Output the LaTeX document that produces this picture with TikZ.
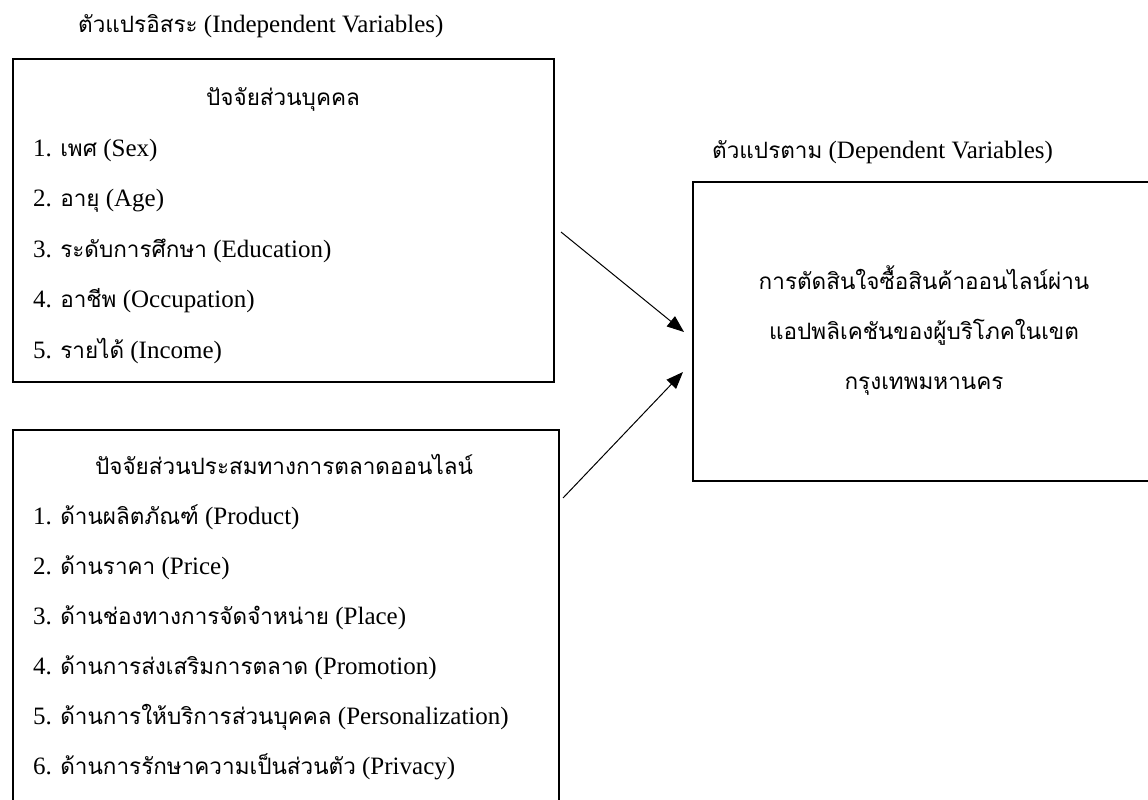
\documentclass[tikz,border=0pt]{standalone}
\usepackage{fontspec}
\setmainfont{Liberation Serif}
\newfontfamily\thai[Script=Thai,Scale=0.9]{Loma}
\usetikzlibrary{arrows.meta}
\begin{document}
\begin{tikzpicture}[x=1pt,y=-1pt,
  frame/.style={draw, line width=2pt, inner sep=0pt, outer sep=0pt},
  lbl/.style={inner sep=0pt, font=\fontsize{25}{30}\selectfont},
  link/.style={line width=1pt, -{Triangle[length=17pt,width=13pt]}}]
\useasboundingbox (0,0) rectangle (1148,800);
\clip (0,0) rectangle (1148,800);
% titles
\node[lbl, anchor=base west] (t1) at (78,33) {{\thai ตัวแปรอิสระ} (Independent Variables)};
\node[lbl, anchor=base west] (t2) at (712,158) {{\thai ตัวแปรตาม} (Dependent Variables)};
% boxes
\node[frame, anchor=north west, minimum width=541pt, minimum height=323pt] (b1) at (13,59) {};
\node[frame, anchor=north west, minimum width=546pt, minimum height=420pt] (b2) at (13,430) {};
\node[frame, anchor=north west, minimum width=500pt, minimum height=299pt] (b3) at (693,182) {};
% box 1 text
\node[lbl, anchor=base] (h1) at (283,105) {\thai ปัจจัยส่วนบุคคล};
\node[lbl, anchor=base west] (p1) at (33,156) {1. {\thai เพศ} (Sex)};
\node[lbl, anchor=base west] (p2) at (33,206.5) {2. {\thai อายุ} (Age)};
\node[lbl, anchor=base west] (p3) at (33,257) {3. {\thai ระดับการศึกษา} (Education)};
\node[lbl, anchor=base west] (p4) at (33,307.5) {4. {\thai อาชีพ} (Occupation)};
\node[lbl, anchor=base west] (p5) at (33,358) {5. {\thai รายได้} (Income)};
% box 2 text
\node[lbl, anchor=base] (h2) at (284,474) {\thai ปัจจัยส่วนประสมทางการตลาดออนไลน์};
\node[lbl, anchor=base west] (m1) at (33,524) {1. {\thai ด้านผลิตภัณฑ์} (Product)};
\node[lbl, anchor=base west] (m2) at (33,574) {2. {\thai ด้านราคา} (Price)};
\node[lbl, anchor=base west] (m3) at (33,624) {3. {\thai ด้านช่องทางการจัดจำหน่าย} (Place)};
\node[lbl, anchor=base west] (m4) at (33,674) {4. {\thai ด้านการส่งเสริมการตลาด} (Promotion)};
\node[lbl, anchor=base west] (m5) at (33,724) {5. {\thai ด้านการให้บริการส่วนบุคคล} (Personalization)};
\node[lbl, anchor=base west] (m6) at (33,774) {6. {\thai ด้านการรักษาความเป็นส่วนตัว} (Privacy)};
% box 3 text
\node[lbl, anchor=base] (d1) at (924,289) {\thai การตัดสินใจซื้อสินค้าออนไลน์ผ่าน};
\node[lbl, anchor=base] (d2) at (924,339) {\thai แอปพลิเคชันของผู้บริโภคในเขต};
\node[lbl, anchor=base] (d3) at (924,389) {\thai กรุงเทพมหานคร};
% arrows
\coordinate (a1s) at (561,232);
\coordinate (a1e) at (684,332);
\coordinate (a2s) at (563,498);
\coordinate (a2e) at (683,372);
\draw[link] (a1s) -- (a1e);
\draw[link] (a2s) -- (a2e);
\end{tikzpicture}
\end{document}
